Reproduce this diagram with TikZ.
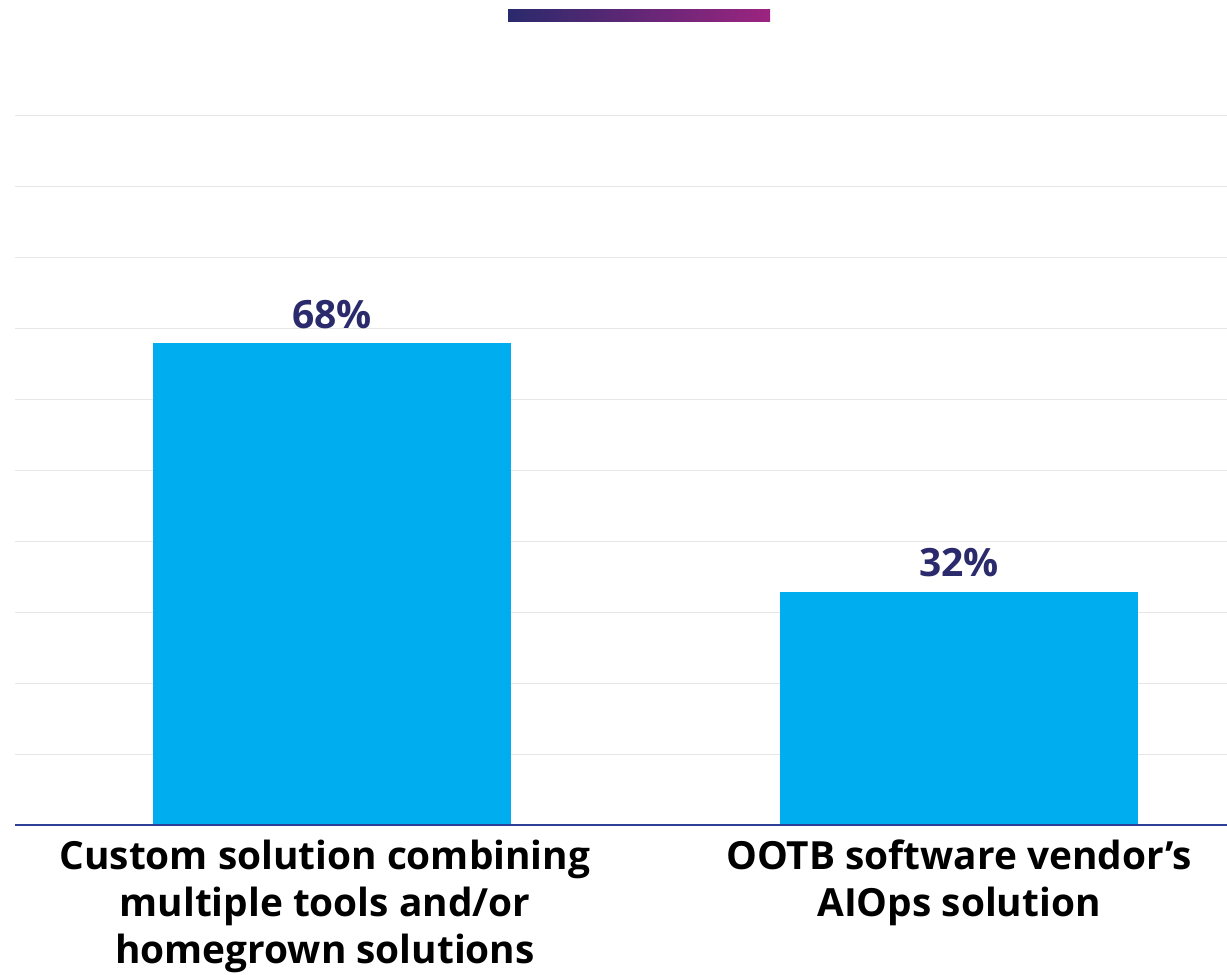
\documentclass[tikz,border=0pt]{standalone}
\usepackage{fontspec}
\setmainfont{Open Sans}
\usepackage{tikz}
\definecolor{barblue}{HTML}{00AEEF}
\definecolor{navy}{HTML}{2A2A6C}
\definecolor{plum}{HTML}{9C2480}
\definecolor{axisblue}{HTML}{2E3F97}
\definecolor{gridgray}{HTML}{E6E6E6}

\begin{document}
\begin{tikzpicture}[x=0.5pt,y=-0.5pt,
    grid/.style={draw=gridgray,line width=0.5pt},
    bar/.style={fill=barblue},
    value/.style={anchor=base,text=navy,inner sep=0pt,
      font=\bfseries\fontsize{19.5}{23}\selectfont},
    category/.style={anchor=base,align=center,inner sep=0pt,
      font=\bfseries\fontsize{19.4}{23.5}\selectfont}
  ]
    \useasboundingbox (0,0) rectangle (1227,975);
    % title accent
    \shade[left color=navy,right color=plum] (508,9) rectangle (770,21);
    % gridlines every 10%
    \foreach \y in {115,186,...,754}
      \draw[grid] (15,\y) -- (1227,\y);
    % bars
    \fill[bar] (153,825) rectangle (511,343);
    \fill[bar] (780,825) rectangle (1138,592);
    \draw[axisblue,line width=1pt] (15,825) -- (1227,825);
    % values
    \node (v1) [value] at (332,328) {68\%};
    \node (v2) [value] at (959,576) {32\%};
    % categories (base = last line)
    \node (c1) [category] at (325,963)
      {Custom solution combining\\multiple tools and/or\\homegrown solutions};
    \node (c2) [category] at (959,916)
      {OOTB software vendor’s\\AIOps solution};
  \end{tikzpicture}
\end{document}
